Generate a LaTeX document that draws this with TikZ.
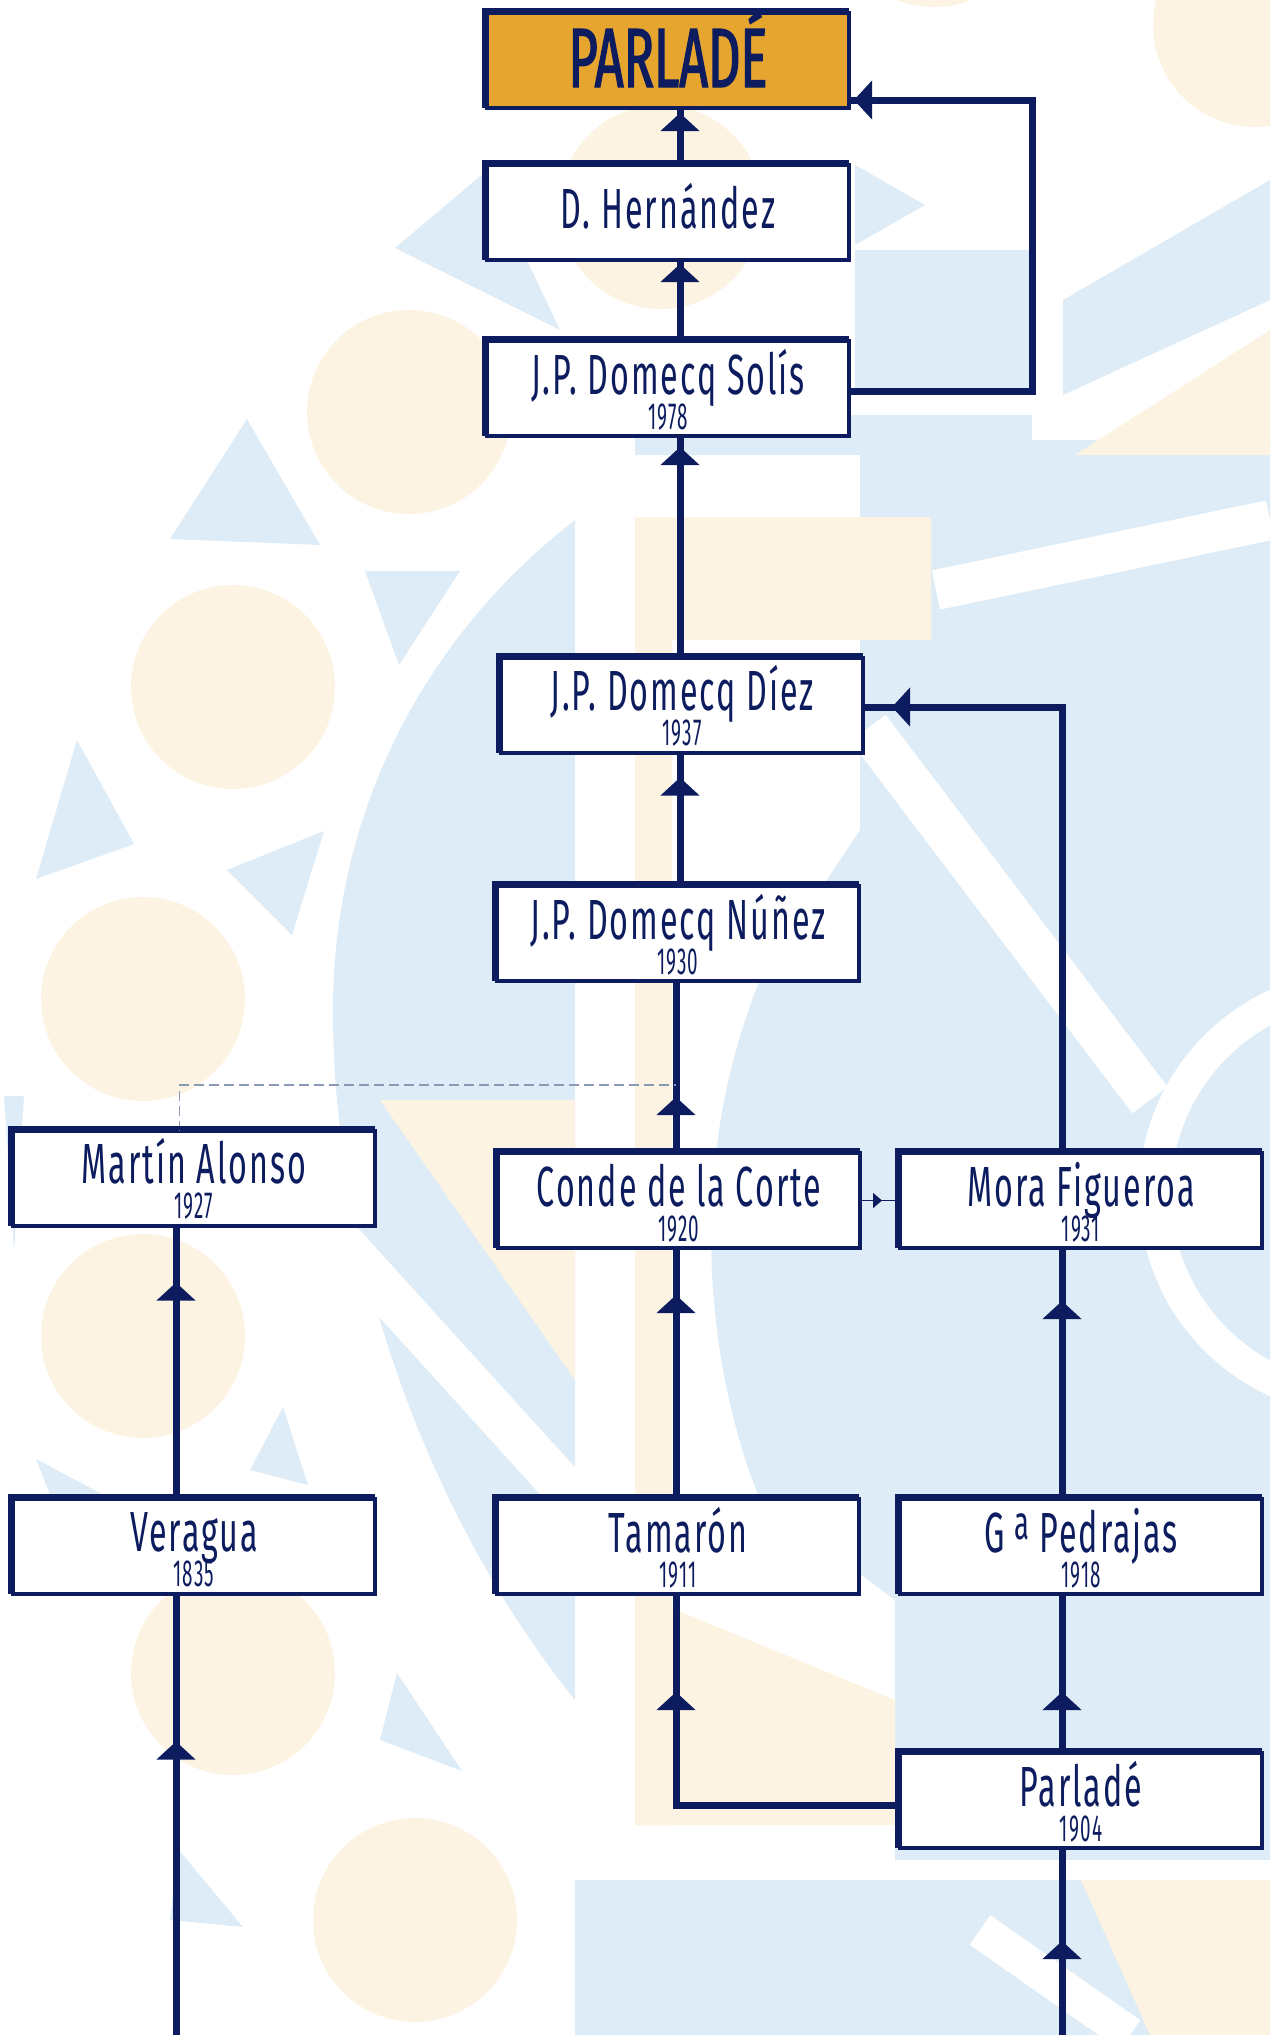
\documentclass[tikz,border=0pt]{standalone}
\usepackage{fontspec}
\usetikzlibrary{arrows.meta,decorations.markings,calc}
\newfontfamily\namefont[FakeStretch=0.57,LetterSpace=3.5]{Fira Sans}
\newfontfamily\yearfont[FakeStretch=0.5,LetterSpace=3]{Fira Sans}
\newfontfamily\titlefont[FakeStretch=0.6,FakeBold=1.6]{Fira Sans}
\definecolor{navy}{HTML}{0C1C5E}
\definecolor{gold}{HTML}{E6A52F}
\definecolor{bgblue}{HTML}{DDECF6}
\definecolor{bgcream}{HTML}{FDF3E2}
\definecolor{dashc}{HTML}{8A99B4}
\tikzset{
  famnode/.style={draw=navy, line width=2pt, fill=white, minimum width=181pt, minimum height=47.5pt, inner sep=0pt, outer sep=0pt},
  nametext/.style={anchor=base, inner sep=0pt, text=navy, font=\namefont\fontsize{28.3pt}{30pt}\selectfont},
  yeartext/.style={anchor=base, inner sep=0pt, text=navy, font=\yearfont\fontsize{18.9pt}{20pt}\selectfont},
  conn/.style={draw=navy, line width=3.5pt},
  arrowat/.style={postaction={decorate, decoration={markings, mark=at position #1 with {\arrow[navy]{Triangle[width=19pt,length=9pt]}}}}},
  smallarrowat/.style={postaction={decorate, decoration={markings, mark=at position #1 with {\arrow[navy]{Triangle[width=7.5pt,length=4.5pt]}}}}},
  ring/.style={fill=white},
  cream/.style={fill=bgcream},
  blue/.style={fill=bgblue}
}
\begin{document}
\begin{tikzpicture}[x=0.5pt, y=-0.5pt]
\useasboundingbox (0,0) rectangle (1270,2035);
% ---------------- background ----------------
\begin{scope}
\clip (0,0) rectangle (1270,2035);
% big left crescent
\path[blue] (575,520) .. controls (420,640) and (330,820) .. (333,1020)
   .. controls (335,1260) and (430,1520) .. (575,1700) -- cycle;
% right side field
\path[blue] (860,440) -- (1270,440) -- (1270,1860) -- (895,1860) -- (895,1600) -- (760,1500)
   .. controls (700,1350) and (690,1150) .. (760,980) -- (860,830) -- cycle;
% top right bands
\path[blue] (1063,300) -- (1270,180) -- (1270,300) -- (1063,395) -- cycle;
\path[blue] (855,250) -- (1030,250) -- (1030,389) -- (855,389) -- cycle;
\path[blue] (855,165) -- (925,205) -- (855,245) -- cycle;
\path[blue] (635,415) -- (1032,415) -- (1032,455) -- (635,455) -- cycle;
% bottom band
\path[blue] (575,1880) -- (1270,1880) -- (1270,2035) -- (575,2035) -- cycle;
% small triangles
\path[blue] (395,248) -- (485,172) -- (560,330) -- cycle;
\path[blue] (247,419) -- (170,539) -- (320,545) -- cycle;
\path[blue] (365,571) -- (460,571) -- (399,665) -- cycle;
\path[blue] (77,740) -- (36,879) -- (134,844) -- cycle;
\path[blue] (324,831) -- (292,935) -- (227,870) -- cycle;
\path[blue] (4,1096) -- (24,1096) -- (14,1252) -- cycle;
\path[blue] (36,1459) -- (134,1511) -- (60,1520) -- cycle;
\path[blue] (283,1407) -- (308,1485) -- (250,1470) -- cycle;
\path[blue] (397,1673) -- (462,1771) -- (380,1740) -- cycle;
\path[blue] (178,1849) -- (243,1927) -- (170,1920) -- cycle;
% white stripes
\draw[white, line width=22pt] (868,728) -- (1150,1100);
\draw[white, line width=20pt] (936,590) -- (1270,520);
\draw[white, line width=22pt] (330,1230) -- (575,1500);
\draw[white, line width=16pt] (1362,1193) circle (207);
\draw[white, line width=18pt] (980,1930) -- (1130,2035);
% cream shapes
\path[cream] (635,517) -- (931,517) -- (931,640) -- (672,640) -- (672,1825) -- (635,1825) -- cycle;
\path[cream] (380,1100) -- (575,1100) -- (575,1380) -- cycle;
\path[cream] (635,1593) -- (895,1700) -- (895,1825) -- (635,1825) -- cycle;
\path[cream] (1075,455) -- (1270,330) -- (1270,455) -- cycle;
\path[cream] (1081,1880) -- (1270,1880) -- (1270,2035) -- (1150,2035) -- cycle;
% cream circles with white rings
\foreach \cx/\cy in {409/412, 233/687, 143/999, 143/1336, 233/1673, 415/1920, 661/207, 1255/25}{
  \path[ring] (\cx,\cy) circle (64pt);
  \path[cream] (\cx,\cy) circle (51pt);
}
\path[cream] (934,-95) circle (51pt);
\end{scope}
% ---------------- column coordinates ----------------
\coordinate (cA) at (680,0);
\coordinate (cB) at (676,0);
\coordinate (cC) at (1062,0);
\coordinate (cL) at (176,0);
\coordinate (lt) at (1032,100);
\coordinate (cDash) at (179.5,0);
\coordinate (jn) at (676,1085);
\coordinate (bl) at (176,2045);
\coordinate (br) at (1062,2045);
% ---------------- boxes ----------------
\node[famnode, fill=gold] (top) at (668,60.5) {};
\node[famnode] (hern) at (668,212.5) {};
\node[famnode] (solis) at (668,388.5) {};
\node[famnode] (diez) at (682,705) {};
\node[famnode] (nunez) at (678,933.5) {};
\node[famnode] (conde) at (679,1200.5) {};
\node[famnode] (mora) at (1081,1200.5) {};
\node[famnode] (martin) at (194,1178) {};
\node[famnode] (veragua) at (194,1546) {};
\node[famnode] (tamaron) at (678,1546.5) {};
\node[famnode] (pedrajas) at (1081,1546.5) {};
\node[famnode] (parlade) at (1081,1800.5) {};
% ---------------- connectors ----------------
\draw[conn, arrowat=-2.5pt] (hern.north -| cA) -- (top.south -| cA);
\draw[conn, arrowat=-2pt] (solis.north -| cA) -- (hern.south -| cA);
\draw[conn, arrowat=-5.5pt] (diez.north -| cA) -- (solis.south -| cA);
\draw[conn, arrowat=-12.5pt] (nunez.north -| cA) -- (diez.south -| cA);
\draw[conn, arrowat=28pt] (conde.north -| cB) -- (nunez.south -| cB);
\draw[conn, arrowat=-23.5pt] (tamaron.north -| cB) -- (conde.south -| cB);
\draw[conn, arrowat=-26.5pt] (pedrajas.north -| cC) -- (mora.south -| cC);
\draw[conn, arrowat=-28.5pt] (veragua.north -| cL) -- (martin.south -| cL);
\draw[conn, arrowat=-49pt] (parlade.north -| cC) -- (pedrajas.south -| cC);
\draw[conn, arrowat=-49pt] ([yshift=-2.5pt]parlade.west) -| (tamaron.south -| cB);
\draw[conn, arrowat=-74pt] (bl) -- (veragua.south -| cL);
\draw[conn, arrowat=-46.5pt] (br) -- (parlade.south -| cC);
\draw[conn, arrowat=-2.5pt] ([yshift=-1.25pt]solis.east) -| (lt) -- (lt -| top.east);
\draw[conn, arrowat=-14.5pt] (mora.north -| cC) |- ([yshift=-1pt]diez.east);
\draw[draw=navy, line width=0.8pt, smallarrowat=-9pt] (conde.east) -- (mora.west);
\draw[dashc, line width=0.8pt, dash pattern=on 5pt off 2.5pt] (martin.north -| cDash) |- (jn);
% thicker top and left edges of the boxes
\foreach \n in {top,hern,solis,diez,nunez,conde,mora,martin,veragua,tamaron,pedrajas,parlade}{
  \draw[navy, line width=2pt] ([xshift=-1.5pt]\n.south west) -- ([xshift=-1.5pt,yshift=1.5pt]\n.north west) -- ([yshift=1.5pt]\n.north east);
}
% ---------------- texts ----------------
\node[anchor=base, inner sep=0pt, text=navy, font=\titlefont\fontsize{42pt}{44pt}\selectfont] (t-top) at ([yshift=-37pt]top.north) {PARLADÉ};
\node[nametext] (t-hern) at ([yshift=-31.5pt]hern.north) {D. Hernández};
\foreach \n/\nm/\yr in {solis/J.P. Domecq Solís/1978, diez/J.P. Domecq Díez/1937, nunez/J.P. Domecq Núñez/1930, conde/Conde de la Corte/1920, mora/Mora Figueroa/1931, martin/Martín Alonso/1927, veragua/Veragua/1835, tamaron/Tamarón/1911, parlade/Parladé/1904}{
  \node[nametext] (t-\n) at ([yshift=-26.5pt]\n.north) {\nm};
  \node[yeartext] (y-\n) at ([yshift=-44pt]\n.north) {\yr};
}
\node[nametext] (t-pedrajas) at ([yshift=-26.5pt]pedrajas.north) {G\,\raisebox{0.22em}{\fontsize{24pt}{25pt}\selectfont a} Pedrajas};
\node[yeartext] (y-pedrajas) at ([yshift=-44pt]pedrajas.north) {1918};
\end{tikzpicture}
\end{document}
